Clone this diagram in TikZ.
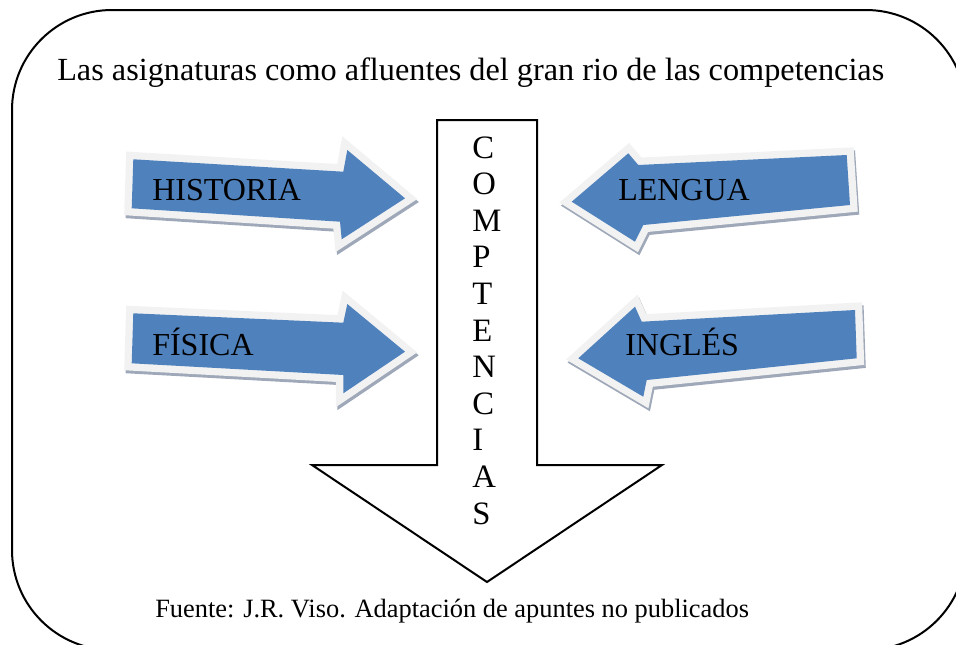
\documentclass[tikz,border=0pt]{standalone}
\usepackage{fontspec}
\setmainfont{Liberation Serif}
\definecolor{arrowblue}{HTML}{4F81BD}
\definecolor{bordergray}{HTML}{F2F2F2}
\definecolor{shadowc}{HTML}{9EA8B8}
\tikzset{
  arrshadow/.style={fill=shadowc, draw=shadowc, line width=11pt, line join=miter},
  arrborder/.style={fill=bordergray, draw=bordergray, line width=11pt, line join=miter},
  arrblue/.style={fill=arrowblue},
  subjlabel/.style={font=\fontsize{24}{28}\selectfont, anchor=base west, inner sep=0pt},
  letter/.style={font=\fontsize{24.5}{28}\selectfont, anchor=base west, inner sep=0pt},
  bigarrow/.style={draw=black, fill=white, line width=1.5pt, line join=miter},
  frame/.style={draw=black, line width=1.5pt, rounded corners=75pt},
}
\newcommand{\subjarrow}[7]{%
  \draw[arrshadow, shift={(1.5,3)}] #1--#2--#3--#4--#5--#6--#7--cycle;
  \draw[arrborder] #1--#2--#3--#4--#5--#6--#7--cycle;
  \fill[arrblue] #1--#2--#3--#4--#5--#6--#7--cycle;}
\begin{document}
\begin{tikzpicture}[x=0.75pt,y=-0.75pt]
\useasboundingbox (0,0) rectangle (956,644);
\begin{scope}
  \clip (0,0) rectangle (956,644);
  \draw[frame] (12,10) rectangle (966,650);
\end{scope}

\node[font=\fontsize{24.2}{28}\selectfont, anchor=base west, inner sep=0pt] (title) at (57,80)
  {Las asignaturas como afluentes del gran rio de las competencias};

% big arrow
\draw[bigarrow] (437,120) -- (537,120) -- (537,465) -- (662,465) -- (487,582) -- (312,465) -- (437,465) -- cycle;
\foreach \l [count=\i from 0] in {C,O,M,P,T,E,N,C,I,A,S}
  \node[letter] (c\i) at (472,{158+36.6*\i}) {\l};

% HISTORIA
\subjarrow{(133.3,159.3)}{(343.3,171.7)}{(347.3,150)}{(405,198.3)}{(341.7,239.3)}{(340,221.7)}{(131.7,208.3)}
\node[subjlabel] (historia) at (152,200) {HISTORIA};
% FISICA
\subjarrow{(133.3,313.3)}{(343.3,322.7)}{(347.3,304)}{(405,351.7)}{(343.3,393.3)}{(343.3,375)}{(131.7,363.3)}
\node[subjlabel] (fisica) at (152,355) {FÍSICA};
% LENGUA
\subjarrow{(571.7,201.7)}{(628.3,153.3)}{(638.3,165)}{(846.7,155)}{(850,205)}{(643.3,225)}{(635,241.7)}
\node[subjlabel] (lengua) at (618,200) {LENGUA};
% INGLES
\subjarrow{(578.3,358.3)}{(635,306.7)}{(641.7,321.7)}{(855,310)}{(856.7,358.3)}{(646.7,380)}{(643.3,396.7)}
\node[subjlabel] (ingles) at (625,355) {INGLÉS};

\node[font=\fontsize{19.8}{24}\selectfont, anchor=base west, inner sep=0pt] (fuente) at (155,617)
  {Fuente: J.R. Viso. Adaptación de apuntes no publicados};
\end{tikzpicture}
\end{document}
